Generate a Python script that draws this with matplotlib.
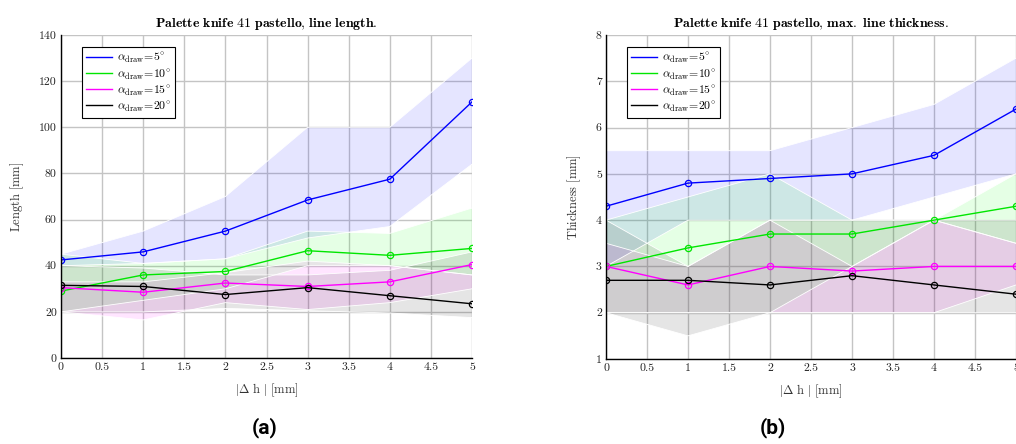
import numpy as np
import matplotlib
matplotlib.use("Agg")
from matplotlib import pyplot as plt

plt.rcParams['font.family'] = 'serif'
plt.rcParams['font.serif'] = ['cmr10', 'DejaVu Serif']
plt.rcParams['mathtext.fontset'] = 'cm'
plt.rcParams['axes.formatter.use_mathtext'] = True

# data
dh = [0, 1, 2, 3, 4, 5]
angles = [5, 10, 15, 20]
colors = ['#0000ff', '#00e600', '#ff00ff', '#000000']
band_colors = ['#0000ff', '#00ff00', '#ff00ff', '#000000']

# line length [mm]
len_mean = [[42.5, 46, 55, 68.5, 77.5, 111],
            [29, 36, 37.5, 46.5, 44.5, 47.5],
            [30.5, 28.5, 32.5, 31, 33, 40.5],
            [31.5, 31, 27.5, 30.5, 27, 23.5]]
len_lo = [[40, 41, 43, 52, 57, 84],
          [20, 25, 30, 40, 40, 36],
          [20, 16.5, 24, 21, 24, 30],
          [20, 20, 21.5, 20.5, 19.5, 17.5]]
len_hi = [[45, 55, 70, 100, 100, 130],
          [45, 41, 43, 55, 54, 65],
          [33, 33, 37, 42, 40, 36],
          [40, 39, 36, 36, 38, 46]]

# max. line thickness [mm]
th_mean = [[4.3, 4.8, 4.9, 5.0, 5.4, 6.4],
           [3.0, 3.4, 3.7, 3.7, 4.0, 4.3],
           [3.0, 2.6, 3.0, 2.9, 3.0, 3.0],
           [2.7, 2.7, 2.6, 2.8, 2.6, 2.4]]
th_lo = [[3.0, 4.0, 4.0, 4.0, 4.5, 5.0],
         [2.0, 2.0, 2.0, 3.0, 4.0, 3.5],
         [2.0, 2.0, 2.0, 2.0, 2.0, 2.6],
         [2.0, 1.5, 2.0, 2.0, 2.0, 2.0]]
th_hi = [[5.5, 5.5, 5.5, 6.0, 6.5, 7.5],
         [4.0, 4.5, 5.0, 4.0, 4.0, 5.0],
         [3.5, 3.0, 4.0, 3.0, 4.0, 3.5],
         [4.0, 3.0, 4.0, 4.0, 4.0, 4.0]]

xticks = [0, 0.5, 1, 1.5, 2, 2.5, 3, 3.5, 4, 4.5, 5]
xtick_labels = ['0', '0.5', '1', '1.5', '2', '2.5', '3', '3.5', '4', '4.5', '5']
len_yticks = [0, 20, 40, 60, 80, 100, 120, 140]
th_yticks = [1, 2, 3, 4, 5, 6, 7, 8]


def draw(ax, mean, lo, hi, yticks, title, ylabel):
    for k in range(len(angles)):
        ax.fill_between(dh, lo[k], hi[k], facecolor=band_colors[k], alpha=0.1,
                        edgecolor='none', zorder=2)
        ax.plot(dh, lo[k], color='white', lw=0.6, zorder=2.5)
        ax.plot(dh, hi[k], color='white', lw=0.6, zorder=2.5)
    for k in range(len(angles)):
        ax.plot(dh, mean[k], color=colors[k], lw=1.0, marker='o', ms=4.5,
                mfc='none', mew=0.9, zorder=3,
                label=r'$\alpha_{\mathrm{draw}}\!=\!%d^{\circ}$' % angles[k])
    ax.set_xlim(0, 5)
    ax.set_ylim(yticks[0], yticks[-1])
    ax.set_xticks(xticks)
    ax.set_xticklabels(xtick_labels)
    ax.set_yticks(yticks)
    ax.set_yticklabels([str(v) for v in yticks])
    ax.grid(True, color='#c4c4c4', lw=1.0, zorder=0)
    ax.set_axisbelow(True)
    ax.tick_params(length=0, labelsize=8.5, pad=3, colors='#222222')
    for s in ['top', 'right']:
        ax.spines[s].set_visible(False)
    for s in ['left', 'bottom']:
        ax.spines[s].set_linewidth(1.0)
        ax.spines[s].set_zorder(4)
    ax.set_title(r'$\mathbf{%s}$' % title.replace(' ', r'\ ').replace(',', '{,}'),
                 fontsize=10, pad=6)
    ax.set_xlabel(r'$|\Delta\ \mathrm{h}\ |\ [\mathrm{mm}]$', fontsize=9, labelpad=7,
                  color='#333333')
    ax.set_ylabel(r'$\mathrm{%s\ [mm]}$' % ylabel, fontsize=9, labelpad=9,
                  color='#333333')
    leg = ax.legend(loc='upper left', bbox_to_anchor=(0.051, 0.963), borderaxespad=0,
                    fontsize=8.5, fancybox=False, framealpha=1, edgecolor='black',
                    handlelength=2.2, handletextpad=0.4, labelspacing=0.15,
                    borderpad=0.35)
    leg.get_frame().set_linewidth(0.8)
    for h in leg.get_lines():
        h.set_marker('')


fig = plt.figure(figsize=(10.16, 4.44), dpi=100)
ax1 = fig.add_axes([61 / 1016, 86 / 444, 411 / 1016, 323 / 444])
ax2 = fig.add_axes([606 / 1016, 85 / 444, 410 / 1016, 324 / 444])

draw(ax1, len_mean, len_lo, len_hi, len_yticks,
     'Palette knife 41 pastello, line length.', 'Length')
draw(ax2, th_mean, th_lo, th_hi, th_yticks,
     'Palette knife 41 pastello, max. line thickness.', 'Thickness')

fig.text(265 / 1016, 1 - 428 / 444, '(a)', family='Roboto', weight='bold',
         fontsize=15, ha='center', va='center')
fig.text(773 / 1016, 1 - 428 / 444, '(b)', family='Roboto', weight='bold',
         fontsize=15, ha='center', va='center')

fig.savefig('out.png', dpi=100)
